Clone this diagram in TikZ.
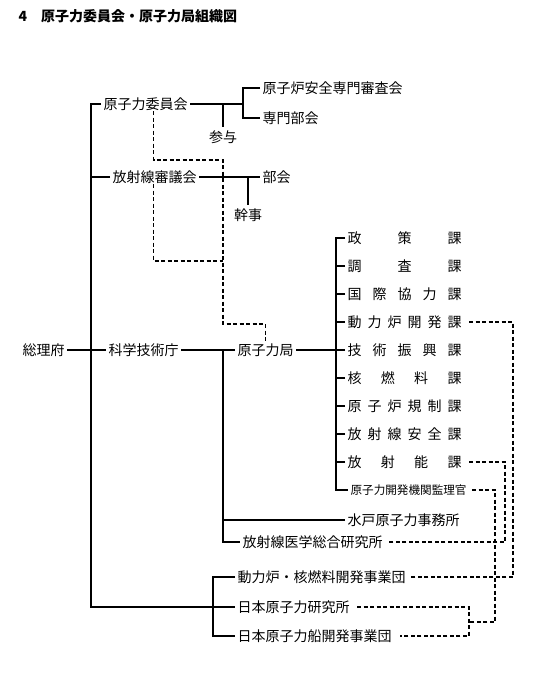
\documentclass[tikz,border=0pt]{standalone}
\usepackage{fontspec}
\setmainfont{Noto Sans CJK JP}

% 課名を均等割り付け
\newcommand{\kawari}[1]{\makebox[114pt][s]{#1}}

\begin{document}
\begin{tikzpicture}[x=1pt, y=-1pt, line width=1.1pt,
    org/.style={anchor=west, inner xsep=2pt, inner ysep=0pt, font=\fontsize{14pt}{16pt}\selectfont},
    small/.style={org, font=\fontsize{11.6pt}{14pt}\selectfont},
    aside/.style={inner sep=3pt, font=\fontsize{14pt}{16pt}\selectfont},
    dsh/.style={dash pattern=on 4pt off 2.5pt}]

    \useasboundingbox (0,0) rectangle (554,692);

    % 表題
    \node[org, font=\fontsize{14pt}{16pt}\selectfont\bfseries] (title) at (16,16) {4\hspace{14pt}原子力委員会・原子力局組織図};

    % 機関
    \node[org] (sori) at (20,350) {総理府};
    \node[org] (kagi) at (106,350) {科学技術庁};
    \node[org] (genkyoku) at (235,350) {原子力局};
    \node[org] (iinkai) at (101,104) {原子力委員会};
    \node[org] (shinsa) at (260,88) {原子炉安全専門審査会};
    \node[org] (senmon) at (260,118) {専門部会};
    \node[aside] (sanyo) at (223,137) {参与};
    \node[org] (shingi) at (110,177) {放射線審議会};
    \node[org] (bukai) at (260,177) {部会};
    \node[aside] (kanji) at (248,215) {幹事};

    % 原子力局の課
    \node[org] (ka1) at (345,238) {\kawari{政\hfill 策\hfill 課}};
    \node[org] (ka2) at (345,266) {\kawari{調\hfill 査\hfill 課}};
    \node[org] (ka3) at (345,294) {\kawari{国\hfill 際\hfill 協\hfill 力\hfill 課}};
    \node[org] (ka4) at (345,322) {\kawari{動\hfill 力\hfill 炉\hfill 開\hfill 発\hfill 課}};
    \node[org] (ka5) at (345,350) {\kawari{技\hfill 術\hfill 振\hfill 興\hfill 課}};
    \node[org] (ka6) at (345,378) {\kawari{核\hfill 燃\hfill 料\hfill 課}};
    \node[org] (ka7) at (345,406) {\kawari{原\hfill 子\hfill 炉\hfill 規\hfill 制\hfill 課}};
    \node[org] (ka8) at (345,434) {\kawari{放\hfill 射\hfill 線\hfill 安\hfill 全\hfill 課}};
    \node[org] (ka9) at (345,462) {\kawari{放\hfill 射\hfill 能\hfill 課}};
    \node[small] (ka10) at (348,490) {原子力開発機関監理官};

    % 附属機関・事業団
    \node[org] (mito) at (345,520) {水戸原子力事務所};
    \node[org] (hoi) at (240,542) {放射線医学総合研究所};
    \node[org] (doren) at (235,577) {動力炉・核燃料開発事業団};
    \node[org] (genken) at (235,607) {日本原子力研究所};
    \node[org] (sempaku) at (235,636) {日本原子力船開発事業団};

    % 実線の系統
    \draw (iinkai.west) -- ++(-10,0) coordinate (trunk) |- (genken.west);
    \draw (shingi.west) -- (shingi.west -| trunk);
    \draw (sori.east) -- (kagi.west);
    \draw (kagi.east) -- (genkyoku.west);
    \coordinate (b1) at (243,104);
    \draw (iinkai.east) -- (b1);
    \draw (shinsa.west) -| (b1) |- (senmon.west);
    \draw (sanyo.north) -- (sanyo.north |- iinkai);
    \draw (shingi.east) -- (bukai.west);
    \draw (kanji.north) -- (kanji.north |- bukai);
    \draw (ka1.west) -- ++(-9,0) coordinate (kb) |- (ka10.west);
    \foreach \i in {2,...,9}
        \draw (ka\i.west) -- (ka\i.west -| kb);
    \draw (genkyoku.east) -- (genkyoku.east -| kb);
    \coordinate (kj) at (223,350);
    \draw (kj) |- (hoi.west);
    \draw (kj |- mito) -- (mito.west);
    \draw (doren.west) -- ++(-22,0) |- (sempaku.west);

    % 破線の系統
    \coordinate (jog1) at (223,160);
    \coordinate (jog2) at (223,324);
    \coordinate (jog3) at (223,261);
    \draw[dsh] ([xshift=8pt]iinkai.south) |- (jog1) -- (jog2) -| (genkyoku.north);
    \draw[dsh] ([xshift=-1pt]shingi.south) |- (jog3);
    \coordinate (rv1) at (513,577);
    \coordinate (rv2) at (505,542);
    \coordinate (rv3) at (495,622);
    \coordinate (rb) at (469,622);
    \draw[dsh] ([xshift=5pt]ka4.east) -| (rv1) -- ([xshift=3pt]doren.east);
    \draw[dsh] ([xshift=5pt]ka9.east) -| (rv2) -- ([xshift=4pt]hoi.east);
    \draw[dsh] ([xshift=3pt]ka10.east) -| (rv3) -- (rb);
    \draw[dsh] ([xshift=5pt]genken.east) -| (rb) |- ([xshift=6pt]sempaku.east);

\end{tikzpicture}
\end{document}
